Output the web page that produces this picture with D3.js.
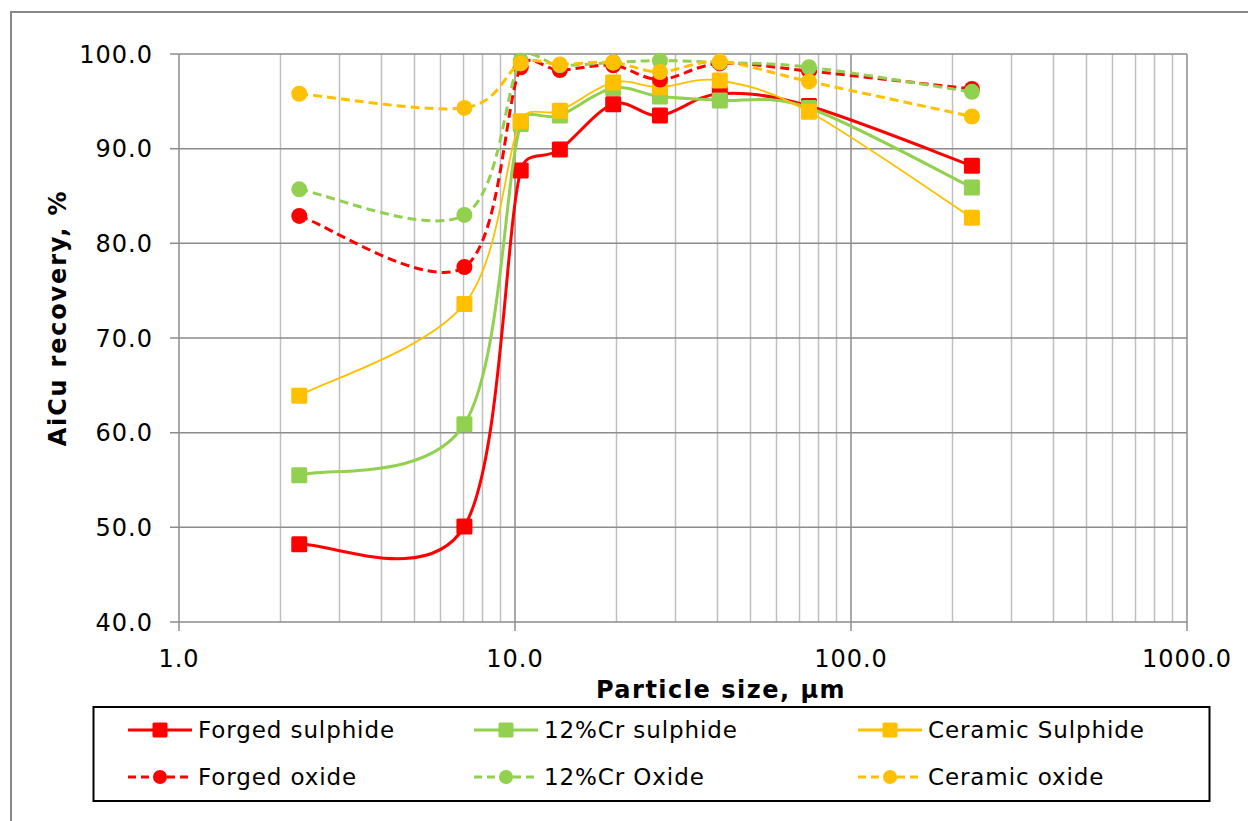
<!DOCTYPE html>
<html>
<head>
<meta charset="utf-8">
<script src="https://cdn.jsdelivr.net/npm/d3@7"></script>
<style>
	html, body { margin: 0; padding: 0; background: #fff; }
	svg { display: block; font-family: "DejaVu Sans", Verdana, sans-serif; }
</style>
</head>
<body>
<div id="chart"></div>
<script>
// particle size (um), log axis
var sizes = [2.28, 7.07, 10.4, 13.6, 19.6, 27.0, 40.7, 75.0, 229];

var forgedSulphide  = [48.2, 50.1, 87.7, 89.9, 94.7, 93.5, 95.8, 94.5, 88.2];
var crSulphide      = [55.5, 60.9, 92.6, 93.5, 96.4, 95.5, 95.1, 94.3, 85.9];
var ceramicSulphide = [63.9, 73.6, 92.9, 94.0, 97.0, 96.5, 97.2, 93.9, 82.7];
var forgedOxide     = [82.9, 77.5, 98.6, 98.3, 98.8, 97.3, 99.0, 98.2, 96.3];
var crOxide         = [85.7, 83.0, 99.3, 98.8, 99.1, 99.3, 99.1, 98.6, 96.0];
var ceramicOxide    = [95.8, 94.3, 99.0, 98.9, 99.1, 98.1, 99.2, 97.1, 93.4];

var seriesNames = ["Forged sulphide", "12%Cr sulphide", "Ceramic Sulphide",
	"Forged oxide", "12%Cr Oxide", "Ceramic oxide"];

var xTicks = [1, 10, 100, 1000];
var yTicks = [40, 50, 60, 70, 80, 90, 100];

var width = 1248,
	height = 821,
	red = "#ff0000",
	green = "#92d050",
	yellow = "#ffc000";

var series = [
	{ name: seriesNames[0], values: forgedSulphide, color: red, w: 3, dash: null, mark: "square" },
	{ name: seriesNames[1], values: crSulphide, color: green, w: 3, dash: null, mark: "square" },
	{ name: seriesNames[2], values: ceramicSulphide, color: yellow, w: 1.8, dash: null, mark: "square" },
	{ name: seriesNames[3], values: forgedOxide, color: red, w: 3, dash: "9,5", mark: "circle" },
	{ name: seriesNames[4], values: crOxide, color: green, w: 3, dash: "9,5", mark: "circle" },
	{ name: seriesNames[5], values: ceramicOxide, color: yellow, w: 3, dash: "9,5", mark: "circle" }
];

var svg = d3.select("#chart").append("svg")
	.attr("width", width)
	.attr("height", height);

// chart area frame (cut by the picture on the right and bottom)
svg.append("path")
	.attr("d", "M11," + height + "V12H" + width)
	.attr("fill", "none")
	.attr("stroke", "#888")
	.attr("stroke-width", 2);

var x = d3.scaleLog().domain([1, 1000]).range([179, 1187]),
	y = d3.scaleLinear().domain([40, 100]).range([622, 54]);

var grid = svg.append("g");

// minor verticals
var minors = [];
for (var d = 1; d < 1000; d *= 10)
	for (var m = 2; m <= 9; m++) minors.push(d * m);

grid.selectAll("line.minor")
	.data(minors)
	.join("line")
	.attr("class", "minor")
	.attr("x1", function (d) { return Math.round(x(d)) + 0.5; })
	.attr("x2", function (d) { return Math.round(x(d)) + 0.5; })
	.attr("y1", y(100))
	.attr("y2", y(40))
	.attr("stroke", "#bfbfbf")
	.attr("stroke-width", 1.5);

grid.selectAll("line.hmaj")
	.data(yTicks)
	.join("line")
	.attr("class", "hmaj")
	.attr("x1", x(1) - 9)
	.attr("x2", x(1000))
	.attr("y1", function (d) { return y(d); })
	.attr("y2", function (d) { return y(d); })
	.attr("stroke", "#8c8c8c")
	.attr("stroke-width", 1.5);

grid.selectAll("line.vmaj")
	.data(xTicks)
	.join("line")
	.attr("class", "vmaj")
	.attr("x1", function (d) { return x(d); })
	.attr("x2", function (d) { return x(d); })
	.attr("y1", y(100))
	.attr("y2", y(40) + 9)
	.attr("stroke", "#8c8c8c")
	.attr("stroke-width", 1.5);

// tick labels
svg.append("g").selectAll("text")
	.data(yTicks)
	.join("text")
	.attr("x", 153)
	.attr("y", function (d) { return y(d); })
	.attr("dy", "0.36em")
	.attr("text-anchor", "end")
	.style("font-size", "24px")
	.style("letter-spacing", "1px")
	.text(function (d) { return d3.format(".1f")(d); });

svg.append("g").selectAll("text")
	.data(xTicks)
	.join("text")
	.attr("x", function (d) { return x(d); })
	.attr("y", 667)
	.attr("text-anchor", "middle")
	.style("font-size", "24px")
	.style("letter-spacing", "1px")
	.text(function (d) { return d3.format(".1f")(d); });

// axis titles
svg.append("text")
	.attr("x", 721)
	.attr("y", 698)
	.attr("text-anchor", "middle")
	.style("font-size", "24px")
	.style("font-weight", "bold")
	.style("letter-spacing", "1.5px")
	.text("Particle size, µm");

svg.append("text")
	.attr("transform", "translate(57,318) rotate(-90)")
	.attr("dy", "0.36em")
	.attr("text-anchor", "middle")
	.style("font-size", "24px")
	.style("font-weight", "bold")
	.style("letter-spacing", "1.8px")
	.text("AiCu recovery, %");

// spreadsheet-style smoothed line: bezier arms of 1/6 of the neighbour
// chord, shortened to at most half of the segment
function smoothPath(p) {
	var path = d3.path(),
		n = p.length,
		i, p0, p1, p2, p3, d12, d02, d13, f0, f1;

	function dist(a, b) {
		return Math.sqrt((a[0] - b[0]) * (a[0] - b[0]) + (a[1] - b[1]) * (a[1] - b[1]));
	}

	path.moveTo(p[0][0], p[0][1]);
	for (i = 0; i < n - 1; i++)
	{
		p1 = p[i];
		p2 = p[i + 1];
		p0 = i > 0 ? p[i - 1] : p1;
		p3 = i < n - 2 ? p[i + 2] : p2;
		d12 = dist(p1, p2);
		d02 = dist(p0, p2);
		d13 = dist(p1, p3);
		f0 = d02 > 0 ? Math.min(1 / 6, d12 / (2 * d02)) : 0;
		f1 = d13 > 0 ? Math.min(1 / 6, d12 / (2 * d13)) : 0;
		path.bezierCurveTo(
			p1[0] + (p2[0] - p0[0]) * f0, p1[1] + (p2[1] - p0[1]) * f0,
			p2[0] - (p3[0] - p1[0]) * f1, p2[1] - (p3[1] - p1[1]) * f1,
			p2[0], p2[1]);
	}
	return path.toString();
}

function drawMark(g, s, px, py, big) {
	if (s.mark == "square")
	{
		var sz = big ? 16 : 15;
		g.append("rect")
			.attr("x", px - sz / 2)
			.attr("y", py - sz / 2)
			.attr("width", sz)
			.attr("height", sz)
			.attr("rx", 1.5)
			.attr("fill", s.color);
	}
	else
	{
		g.append("circle")
			.attr("cx", px)
			.attr("cy", py)
			.attr("r", big ? 8 : 7)
			.attr("fill", s.color);
	}
}

series.forEach(function (s) {
	var pts = sizes.map(function (v, i) { return [x(v), y(s.values[i])]; });
	var g = svg.append("g");
	g.append("path")
		.attr("d", smoothPath(pts))
		.attr("fill", "none")
		.attr("stroke", s.color)
		.attr("stroke-width", s.w)
		.attr("stroke-dasharray", s.dash);
	pts.forEach(function (p) {
		drawMark(g, s, p[0], p[1], true);
	});
});

// legend
var lg = svg.append("g");
lg.append("rect")
	.attr("x", 93.5)
	.attr("y", 707)
	.attr("width", 1116)
	.attr("height", 94)
	.attr("fill", "#fff")
	.attr("stroke", "#000")
	.attr("stroke-width", 2);

var colX = [128, 474, 858],
	rowY = [730, 777];

series.forEach(function (s, i) {
	var cx = colX[i % 3],
		cy = rowY[Math.floor(i / 3)],
		g = lg.append("g");
	g.append("line")
		.attr("x1", cx)
		.attr("x2", cx + 64)
		.attr("y1", cy)
		.attr("y2", cy)
		.attr("stroke", s.color)
		.attr("stroke-width", 3)
		.attr("stroke-dasharray", s.dash ? "8,5" : null);
	drawMark(g, s, cx + 32, cy, false);
	g.append("text")
		.attr("x", cx + 70)
		.attr("y", cy)
		.attr("dy", "0.36em")
		.style("font-size", "23px")
		.style("letter-spacing", "0.9px")
		.text(s.name);
});
</script>
</body>
</html>
